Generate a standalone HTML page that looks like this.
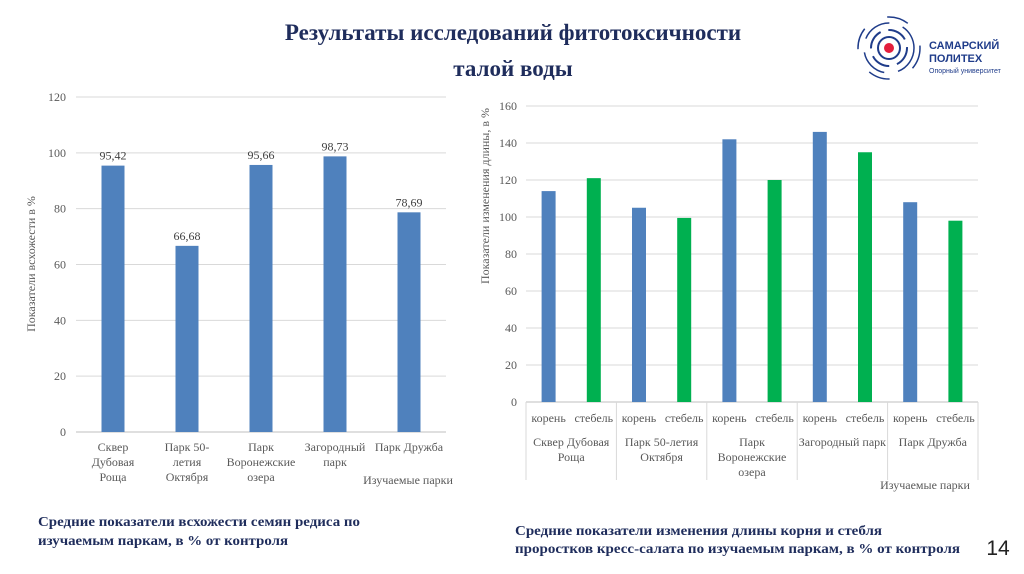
<!DOCTYPE html>
<html><head><meta charset="utf-8"><style>
body{margin:0;background:#fff;}
svg{display:block;font-family:"Liberation Serif",serif;}
</style></head><body>
<svg id="s" width="1024" height="574" viewBox="0 0 1024 574">
<text x="513" y="40" text-anchor="middle" font-size="23" font-weight="bold" fill="#1f2d5c">Результаты исследований фитотоксичности</text>
<text x="513" y="76" text-anchor="middle" font-size="23" font-weight="bold" fill="#1f2d5c">талой воды</text>
<g>
<circle cx="889" cy="48" r="5" fill="#e31e3c"/>
<circle cx="889" cy="48" r="11" fill="none" stroke="#1f3c8a" stroke-width="2"/>
<circle cx="889" cy="48" r="18" fill="none" stroke="#1f3c8a" stroke-width="2" stroke-dasharray="20 8"/>
<circle cx="889" cy="48" r="25" fill="none" stroke="#1f3c8a" stroke-width="1.5" stroke-dasharray="30 14"/>
<circle cx="889" cy="48" r="31" fill="none" stroke="#1f3c8a" stroke-width="1.5" stroke-dasharray="22 26"/>
<text x="929" y="49" font-family="Liberation Sans,sans-serif" font-size="11" font-weight="bold" fill="#1f3c8a">САМАРСКИЙ</text>
<text x="929" y="62" font-family="Liberation Sans,sans-serif" font-size="11" font-weight="bold" fill="#1f3c8a">ПОЛИТЕХ</text>
<text x="929" y="73" font-family="Liberation Sans,sans-serif" font-size="7" fill="#1f3c8a">Опорный университет</text>
</g>
<g id="c1"></g>
<g id="c2"></g>
<text x="38" y="526" font-size="13.5" font-weight="bold" fill="#1f2d5c" textLength="322" lengthAdjust="spacingAndGlyphs">Средние показатели всхожести семян редиса по</text>
<text x="38" y="545" font-size="13.5" font-weight="bold" fill="#1f2d5c" textLength="250" lengthAdjust="spacingAndGlyphs">изучаемым паркам, в % от контроля</text>
<text x="515" y="535" font-size="13.5" font-weight="bold" fill="#1f2d5c" textLength="367" lengthAdjust="spacingAndGlyphs">Средние показатели изменения длины корня и стебля</text>
<text x="515" y="553" font-size="13.5" font-weight="bold" fill="#1f2d5c" textLength="445" lengthAdjust="spacingAndGlyphs">проростков кресс-салата по изучаемым паркам, в % от контроля</text>
<text x="998" y="555" text-anchor="middle" font-family="Liberation Sans,sans-serif" font-size="21" fill="#222">14</text>
</svg>
<script>
const leftCategories=[["Сквер","Дубовая","Роща"],["Парк 50-","летия","Октября"],["Парк","Воронежские","озера"],["Загородный","парк"],["Парк Дружба"]];
const leftValues=[95.42,66.68,95.66,98.73,78.69];
const leftTicks=[0,20,40,60,80,100,120];
const rightGroups=[["Сквер Дубовая","Роща"],["Парк 50-летия","Октября"],["Парк","Воронежские","озера"],["Загородный парк"],["Парк Дружба"]];
const rightSubs=["корень","стебель"];
const rootValues=[114,105,142,146,108];
const stemValues=[121,99.5,120,135,98];
const rightTicks=[0,20,40,60,80,100,120,140,160];
const NS="http://www.w3.org/2000/svg";
function mk(p,t,a,txt){const e=document.createElementNS(NS,t);for(const k in a)e.setAttribute(k,a[k]);if(txt!==undefined)e.textContent=txt;p.appendChild(e);return e;}
// left chart
const c1=document.getElementById('c1');
const L={x0:76,x1:446,y0:432,y1:97,max:120};
const ly=v=>L.y0-(v/L.max)*(L.y0-L.y1);
const lband=(L.x1-L.x0)/leftValues.length;
leftTicks.forEach(t=>{
 let g=mk(c1,'line',{x1:L.x0,x2:L.x1,y1:ly(t),y2:ly(t),stroke:t===0?'#bfbfbf':'#d9d9d9','stroke-width':1});
 
 let tx=mk(c1,'text',{x:66,y:ly(t)+4,'text-anchor':'end','font-size':12,fill:'#595959'},t);
 
});
leftValues.forEach((v,i)=>{
 const cx=L.x0+lband*(i+0.5);
 let b=mk(c1,'rect',{x:cx-11.5,y:ly(v),width:23,height:L.y0-ly(v),fill:'#4f81bd'});
 
 let lb=mk(c1,'text',{x:cx,y:ly(v)-6,'text-anchor':'middle','font-size':12,fill:'#404040'},v.toFixed(2).replace('.',','));
 
 leftCategories[i].forEach((s,j)=>{
  let ct=mk(c1,'text',{x:cx,y:451+j*15,'text-anchor':'middle','font-size':12,fill:'#595959'},s);
  
 });
});
let la=mk(c1,'text',{x:408,y:484,'text-anchor':'middle','font-size':12,fill:'#595959'},'Изучаемые парки');

let lya=mk(c1,'text',{transform:'translate(35,264) rotate(-90)','text-anchor':'middle','font-size':12,fill:'#595959'},'Показатели всхожести в %');

// right chart
const c2=document.getElementById('c2');
const R={x0:526,x1:978,y0:402,y1:106,max:160};
const ry=v=>R.y0-(v/R.max)*(R.y0-R.y1);
const gw=(R.x1-R.x0)/rootValues.length;
rightTicks.forEach(t=>{
 let g=mk(c2,'line',{x1:R.x0,x2:R.x1,y1:ry(t),y2:ry(t),stroke:t===0?'#bfbfbf':'#d9d9d9','stroke-width':1});
 
 let tx=mk(c2,'text',{x:517,y:ry(t)+4,'text-anchor':'end','font-size':12,fill:'#595959'},t);
 
});
for(let i=0;i<=rootValues.length;i++){
 let s=mk(c2,'line',{x1:R.x0+gw*i,x2:R.x0+gw*i,y1:R.y0,y2:480,stroke:'#d9d9d9','stroke-width':1});
 
}
rootValues.forEach((v,i)=>{
 const gx=R.x0+gw*i;
 [[v,'#4f81bd','right-root-bar'],[stemValues[i],'#00b050','right-stem-bar']].forEach((d,k)=>{
  const cx=gx+gw*(0.25+0.5*k);
  let b=mk(c2,'rect',{x:cx-7,y:ry(d[0]),width:14,height:R.y0-ry(d[0]),fill:d[1]});
  
  let st=mk(c2,'text',{x:cx,y:422,'text-anchor':'middle','font-size':12,fill:'#595959'},rightSubs[k]);
  
 });
 rightGroups[i].forEach((s,j)=>{
  let ct=mk(c2,'text',{x:gx+gw/2,y:446+j*15,'text-anchor':'middle','font-size':12,fill:'#595959'},s);
  
 });
});
let ra=mk(c2,'text',{x:925,y:489,'text-anchor':'middle','font-size':12,fill:'#595959'},'Изучаемые парки');

let rya=mk(c2,'text',{transform:'translate(489,196) rotate(-90)','text-anchor':'middle','font-size':12,fill:'#595959'},'Показатели изменения длины, в %');

</script>
</body></html>
